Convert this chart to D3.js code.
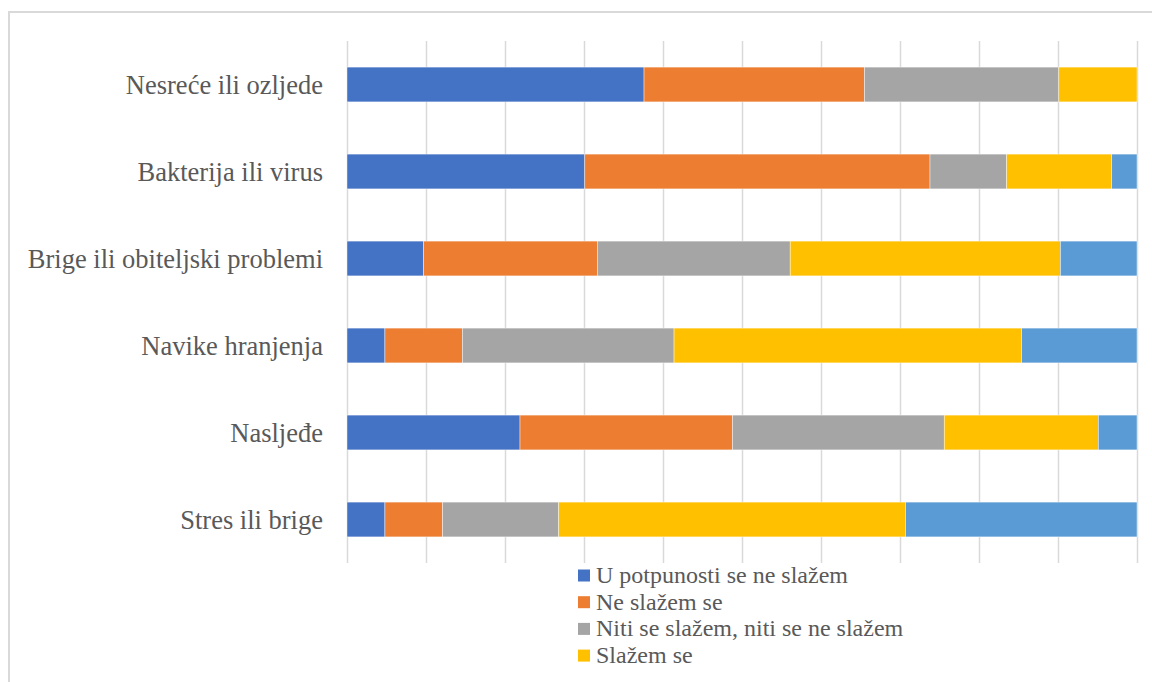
<!DOCTYPE html>
<html>
<head>
<meta charset="utf-8">
<script src="https://cdn.jsdelivr.net/npm/d3@7"></script>
<style>
  html, body { margin: 0; padding: 0; background: #fff; overflow: hidden; }
  svg { display: block; }
  .lbl { font-family: "Liberation Serif", "Times New Roman", Tinos, "DejaVu Serif", serif; fill: #595959; }
</style>
</head>
<body>
<svg id="chart" width="1152" height="682"></svg>
<script>
// ---- data ----
const categories = [
  "Nesreće ili ozljede",
  "Bakterija ili virus",
  "Brige ili obiteljski problemi",
  "Navike hranjenja",
  "Nasljeđe",
  "Stres ili brige"
];
const seriesNames = [
  "U potpunosti se ne slažem",
  "Ne slažem se",
  "Niti se slažem, niti se ne slažem",
  "Slažem se",
  "U potpunosti se slažem"
];
const uPotpunostiNeSlazem = [37.6, 30.1, 9.7, 4.8, 21.9, 4.8];
const neSlazem            = [27.9, 43.7, 22.0, 9.8, 26.9, 7.3];
const nitiNiti            = [24.6, 9.7, 24.4, 26.8, 26.8, 14.7];
const slazem              = [9.9, 13.3, 34.2, 44.0, 19.5, 43.9];
const uPotpunostiSlazem   = [0.0, 3.2, 9.7, 14.6, 4.9, 29.3];
const xTicks = [0, 10, 20, 30, 40, 50, 60, 70, 80, 90, 100];
const colors = ["#4472C4", "#ED7D31", "#A5A5A5", "#FFC000", "#5B9BD5"];
// legend entries visible in the picture (the last one is cut off by the frame)
const legendNames = seriesNames.slice(0, 4);

const seriesValues = [uPotpunostiNeSlazem, neSlazem, nitiNiti, slazem, uPotpunostiSlazem];
const table = categories.map((c, i) => {
  const row = { category: c };
  seriesNames.forEach((s, j) => { row[s] = seriesValues[j][i]; });
  return row;
});

// ---- layout ----
const svg = d3.select("#chart");
const plotLeft = 347, plotRight = 1137, plotTop = 41, plotBottom = 563;

// outer chart border
svg.append("rect")
  .attr("x", 9).attr("y", 12)
  .attr("width", 1200).attr("height", 800)
  .attr("fill", "none")
  .attr("stroke", "#D9D9D9")
  .attr("stroke-width", 2);

const x = d3.scaleLinear().domain([0, 100]).range([plotLeft, plotRight]);
const y = d3.scaleBand().domain(categories).range([plotTop, plotBottom])
  .paddingInner(0.6).paddingOuter(0.3);

// gridlines
svg.append("g").selectAll("line")
  .data(xTicks)
  .join("line")
  .attr("x1", d => Math.round(x(d)) + 0.5)
  .attr("x2", d => Math.round(x(d)) + 0.5)
  .attr("y1", plotTop)
  .attr("y2", plotBottom)
  .attr("stroke", "#D9D9D9")
  .attr("stroke-width", 1.5);

// stacked bars
const stack = d3.stack().keys(seriesNames);
const stacked = stack(table);

svg.append("g").selectAll("g")
  .data(stacked)
  .join("g")
  .attr("fill", (d, i) => colors[i])
  .selectAll("rect")
  .data(d => d)
  .join("rect")
  .attr("x", d => x(d[0]))
  .attr("y", d => y(d.data.category))
  .attr("width", d => Math.max(0, x(d[1]) - x(d[0])))
  .attr("height", y.bandwidth())
  .attr("stroke", "#ffffff")
  .attr("stroke-width", 0.6)
  .attr("stroke-opacity", 0.7);

// category labels
const yAxis = d3.axisLeft(y).tickSize(0).tickPadding(24);
const gy = svg.append("g")
  .attr("transform", `translate(${plotLeft},0)`)
  .call(yAxis)
  .attr("font-family", null)
  .attr("font-size", null);
gy.select(".domain").remove();
gy.selectAll("text")
  .attr("class", "lbl")
  .style("font-size", "26.5px")
  .attr("fill", "#595959")
  .attr("dy", "0.34em");

// legend
const legend = svg.append("g").attr("transform", "translate(578, 583)");
const item = legend.selectAll("g")
  .data(legendNames)
  .join("g")
  .attr("transform", (d, i) => `translate(0, ${i * 26.7})`);
item.append("rect")
  .attr("x", 0).attr("y", -13.5)
  .attr("width", 12).attr("height", 12)
  .attr("fill", (d, i) => colors[i]);
item.append("text")
  .attr("class", "lbl")
  .attr("x", 18).attr("y", 0)
  .style("font-size", "24px")
  .text(d => d);
</script>
</body>
</html>
